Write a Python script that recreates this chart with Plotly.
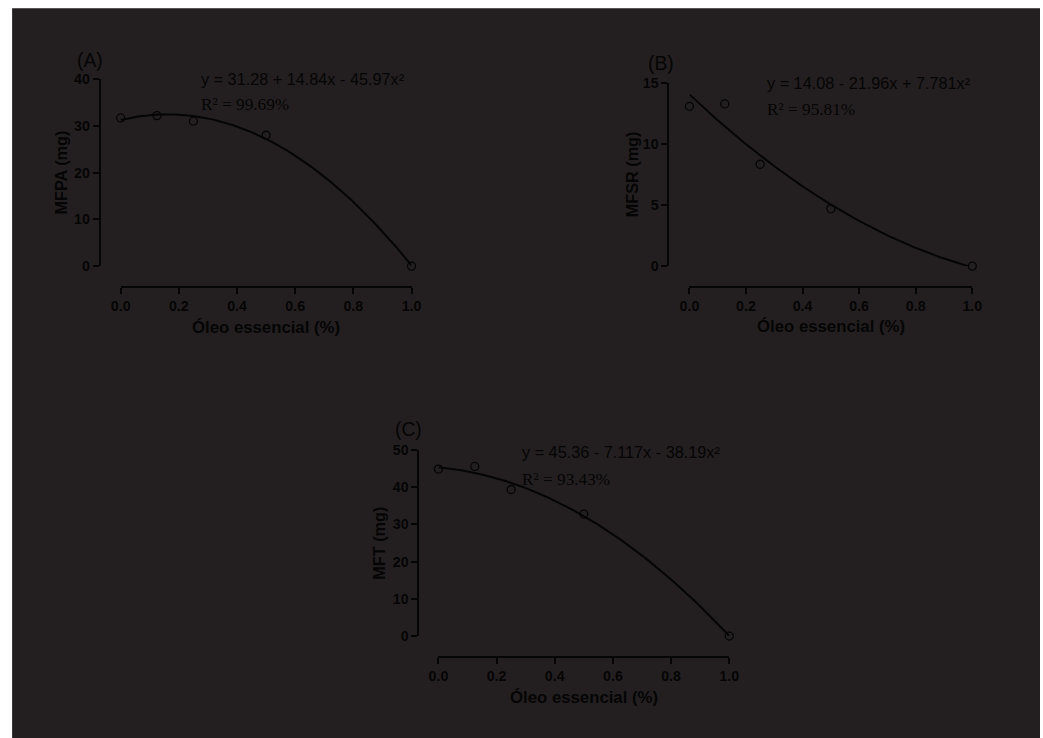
import numpy as np
import plotly.graph_objects as go

# Screen mapping of the page: 8px body margin, then the view is scaled by KX/KY
PAD = 8
KX, KY = 1043 / 1059, 738 / 754
W, H = 1051, 746

# Essential-oil concentration (%) and measured means per response
dose = [0.0, 0.125, 0.25, 0.5, 1.0]
mfpa = [31.7, 32.2, 31.0, 28.0, 0.0]
mfsr = [13.1, 13.3, 8.35, 4.7, 0.0]
mft = [44.9, 45.6, 39.4, 32.8, 0.0]

# Quadratic regression coefficients (b0, b1, b2)
coef_mfpa = [31.28, 14.84, -45.97]
coef_mfsr = [14.08, -21.96, 7.781]
coef_mft = [45.36, -7.117, -38.19]

eq_labels = ["y = 31.28 + 14.84x - 45.97x²",
             "y = 14.08 - 21.96x + 7.781x²",
             "y = 45.36 - 7.117x - 38.19x²"]
r2_labels = ["R² = 99.69%", "R² = 95.81%", "R² = 93.43%"]
panel_labels = ["(A)", "(B)", "(C)"]
y_titles = ["MFPA (mg)", "MFSR (mg)", "MFT (mg)"]
x_title = "Óleo essencial (%)"
y_max = [40, 15, 50]
y_dtick = [10, 5, 10]
x_ticks = [0.0, 0.2, 0.4, 0.6, 0.8, 1.0]

series = [mfpa, mfsr, mft]
coefs = [coef_mfpa, coef_mfsr, coef_mft]

# Panel geometry in screen pixels: x-axis span, x-axis line y, y-axis span, y-axis line x,
# y-title x, x-title y, equation anchor, panel label anchor
panels = [
    dict(x0=119, x1=411, xline=287, ybot=266, ytop=79, yline=98,
         ytx=59, xty=327, eqx=198, eqy=79, r2y=104, lbx=73, lby=60),
    dict(x0=690, x1=974, xline=287, ybot=266, ytop=83, yline=669,
         ytx=632, xty=326, eqx=766, eqy=83, r2y=109, lbx=646, lby=63),
    dict(x0=438, x1=730, xline=657, ybot=636, ytop=450, yline=418,
         ytx=378, xty=697, eqx=520, eqy=452, r2y=479, lbx=392, lby=429),
]

BG = "#231f20"
INK = "#050505"
SANS = "Liberation Sans, Arial, sans-serif"
SERIF = "Liberation Serif, Times New Roman, serif"
FS = 1 / KX  # font scale


def px(x):
    return (x / KX - PAD) / W


def py(y):
    return 1 - (y / KY - PAD) / H


fig = go.Figure()
layout = dict(
    width=W, height=H,
    margin=dict(l=0, r=0, t=0, b=0),
    paper_bgcolor="white",
    plot_bgcolor="rgba(0,0,0,0)",
    showlegend=False,
    shapes=[dict(type="rect", xref="paper", yref="paper",
                 x0=px(10), x1=min(1, px(1042)), y0=0, y1=min(1, py(8)),
                 fillcolor=BG, line=dict(width=0), layer="below")],
    annotations=[],
)

xs = np.linspace(0, 1, 201)

for i, p in enumerate(panels):
    sfx = "" if i == 0 else str(i + 1)
    xa, ya = "x" + sfx, "y" + sfx
    b0, b1, b2 = coefs[i]
    fig.add_trace(go.Scatter(
        x=xs, y=b0 + b1 * xs + b2 * xs ** 2, mode="lines",
        line=dict(color=INK, width=2), xaxis=xa, yaxis=ya,
        cliponaxis=False, hoverinfo="skip"))
    fig.add_trace(go.Scatter(
        x=dose, y=series[i], mode="markers",
        marker=dict(symbol="circle-open", size=8, color=INK,
                    line=dict(width=1.3, color=INK)),
        xaxis=xa, yaxis=ya, cliponaxis=False))

    layout["xaxis" + sfx] = dict(
        domain=[px(p["x0"]), px(p["x1"])], range=[0, 1],
        anchor="free", position=py(p["xline"]),
        showline=True, linecolor=INK, linewidth=2,
        ticks="outside", ticklen=6, tickwidth=2, tickcolor=INK,
        tickvals=x_ticks, tickformat=".1f",
        tickfont=dict(family=SANS, size=14 * FS, color=INK, weight="bold"),
        showgrid=False, zeroline=False)
    layout["yaxis" + sfx] = dict(
        domain=[py(p["ybot"]), py(p["ytop"])], range=[0, y_max[i]],
        anchor="free", position=px(p["yline"]),
        showline=True, linecolor=INK, linewidth=2,
        ticks="outside", ticklen=6, tickwidth=2, tickcolor=INK,
        dtick=y_dtick[i], tick0=0,
        tickfont=dict(family=SANS, size=14 * FS, color=INK, weight="bold"),
        showgrid=False, zeroline=False)

    ann = layout["annotations"]
    ann.append(dict(text=y_titles[i], xref="paper", yref="paper",
                    x=px(p["ytx"]), y=(py(p["ybot"]) + py(p["ytop"])) / 2,
                    textangle=-90, showarrow=False, xanchor="center", yanchor="middle",
                    font=dict(family=SANS, size=16 * FS, color=INK, weight="bold")))
    ann.append(dict(text=x_title, xref="paper", yref="paper",
                    x=(px(p["x0"]) + px(p["x1"])) / 2, y=py(p["xty"]),
                    showarrow=False, xanchor="center", yanchor="middle",
                    font=dict(family=SANS, size=16.5 * FS, color=INK, weight="bold")))
    ann.append(dict(text=eq_labels[i], xref="paper", yref="paper",
                    x=px(p["eqx"]), y=py(p["eqy"]),
                    showarrow=False, xanchor="left", yanchor="middle",
                    font=dict(family=SANS, size=16 * FS, color=INK)))
    ann.append(dict(text=r2_labels[i], xref="paper", yref="paper",
                    x=px(p["eqx"]), y=py(p["r2y"]),
                    showarrow=False, xanchor="left", yanchor="middle",
                    font=dict(family=SERIF, size=17 * FS, color=INK)))
    ann.append(dict(text=panel_labels[i], xref="paper", yref="paper",
                    x=px(p["lbx"]), y=py(p["lby"]),
                    showarrow=False, xanchor="left", yanchor="middle",
                    font=dict(family=SANS, size=19 * FS, color=INK)))

fig.update_layout(**layout)
fig.write_html("out.html")
